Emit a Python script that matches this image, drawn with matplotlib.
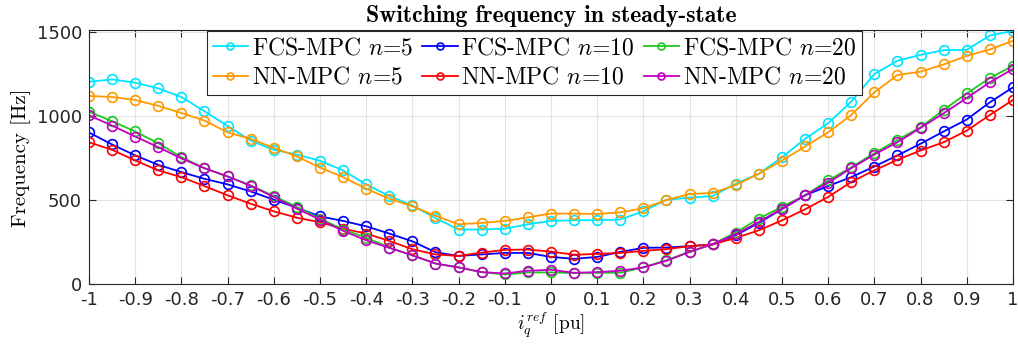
import numpy as np
import matplotlib
matplotlib.use('Agg')
import matplotlib.pyplot as plt

plt.rcParams['mathtext.fontset'] = 'cm'

# iq referentie [pu], stap 0.05
iq_ref = np.round(np.arange(-1, 1.0001, 0.05), 2)

# schakelfrequentie [Hz]
fcs_n5 = [1203, 1217, 1198, 1164, 1113, 1028, 941, 854, 799, 771,
          734, 677, 594, 525, 469, 394, 326, 326, 331, 357,
          377, 381, 381, 385, 434, 503, 515, 525, 598, 657,
          754, 864, 957, 1085, 1249, 1328, 1363, 1391, 1393, 1478, 1505]
fcs_n10 = [902, 831, 766, 710, 667, 627, 594, 552, 503, 455,
           404, 377, 345, 302, 256, 191, 169, 178, 187, 187,
           163, 152, 163, 193, 217, 219, 227, 237, 292, 365,
           447, 529, 584, 637, 700, 766, 835, 908, 979, 1081, 1170]
fcs_n20 = [1026, 969, 908, 838, 756, 690, 641, 588, 525, 460,
           391, 326, 278, 219, 173, 124, 101, 73, 59, 71,
           71, 67, 69, 69, 101, 144, 193, 239, 308, 391,
           461, 529, 617, 696, 779, 858, 933, 1036, 1134, 1225, 1298]
nn_n5 = [1119, 1113, 1095, 1060, 1018, 973, 903, 864, 811, 760,
         694, 637, 568, 509, 464, 408, 357, 365, 377, 398,
         421, 420, 418, 428, 452, 501, 537, 543, 590, 657,
         735, 819, 903, 1006, 1140, 1243, 1263, 1306, 1357, 1395, 1446]
nn_n10 = [844, 799, 736, 677, 637, 584, 529, 479, 434, 396,
          369, 331, 302, 258, 209, 178, 169, 189, 205, 207,
          195, 176, 181, 187, 199, 209, 227, 237, 276, 321,
          380, 446, 519, 608, 677, 740, 795, 844, 913, 1006, 1095]
nn_n20 = [1004, 943, 878, 815, 748, 690, 641, 586, 519, 450,
          385, 318, 262, 217, 173, 124, 101, 73, 65, 81,
          87, 69, 73, 81, 101, 140, 193, 239, 298, 371,
          450, 529, 604, 690, 771, 844, 929, 1016, 1107, 1200, 1279]

x_ticks = np.round(np.arange(-1, 1.0001, 0.1), 1)
x_tick_labels = ['-1', '-0.9', '-0.8', '-0.7', '-0.6', '-0.5', '-0.4', '-0.3', '-0.2', '-0.1',
                 '0', '0.1', '0.2', '0.3', '0.4', '0.5', '0.6', '0.7', '0.8', '0.9', '1']
y_ticks = [0, 500, 1000, 1500]

fig = plt.figure(figsize=(10.18, 3.46), dpi=100)
ax = fig.add_axes([0.0874, 0.178, 0.9076, 0.735])

# volgorde zodat de legenda per rij FCS / NN toont
series = [
    (fcs_n5, '#00e5ff', r'FCS-MPC $n$=5'),
    (nn_n5, '#ff9900', r'NN-MPC $n$=5'),
    (fcs_n10, '#0000ff', r'FCS-MPC $n$=10'),
    (nn_n10, '#ff0000', r'NN-MPC $n$=10'),
    (fcs_n20, '#1fc81f', r'FCS-MPC $n$=20'),
    (nn_n20, '#c000c0', r'NN-MPC $n$=20'),
]
for values, color, label in series:
    ax.plot(iq_ref, values, color=color, lw=1.3, marker='o', markersize=7,
            markerfacecolor='none', markeredgewidth=1.2, label=label)

ax.set_xlim(-1, 1)
ax.set_ylim(0, 1510)
ax.set_xticks(x_ticks)
ax.set_xticklabels(x_tick_labels, family='DejaVu Sans', fontsize=13)
ax.set_yticks(y_ticks)
ax.set_yticklabels([str(v) for v in y_ticks], family='DejaVu Sans', fontsize=13)
ax.tick_params(direction='in', top=True, right=True, length=5, width=0.8,
               colors='#262626', pad=5)
ax.grid(True, color='#e3e3e3', lw=0.8)
for sp in ax.spines.values():
    sp.set_color('#262626')
    sp.set_linewidth(0.8)

ax.set_title('Switching frequency in steady-state', family='cmb10', fontsize=17, pad=6)
ax.set_xlabel(r'$i_q^{ref}$ [pu]', family='cmr10', fontsize=14, labelpad=1)
ax.set_ylabel('Frequency [Hz]', family='cmr10', fontsize=15, labelpad=4)

leg = ax.legend(loc='upper center', bbox_to_anchor=(0.482, 1.0), ncol=3, fancybox=False,
                edgecolor='#262626', framealpha=1, prop={'family': 'cmr10', 'size': 17},
                handlelength=1.5, handletextpad=0.15, columnspacing=0.4, borderpad=0.25,
                labelspacing=0.32, borderaxespad=0.05)
leg.get_frame().set_linewidth(0.8)
for h in leg.legend_handles:
    h.set_markersize(5)

fig.savefig('out.png', dpi=100)
